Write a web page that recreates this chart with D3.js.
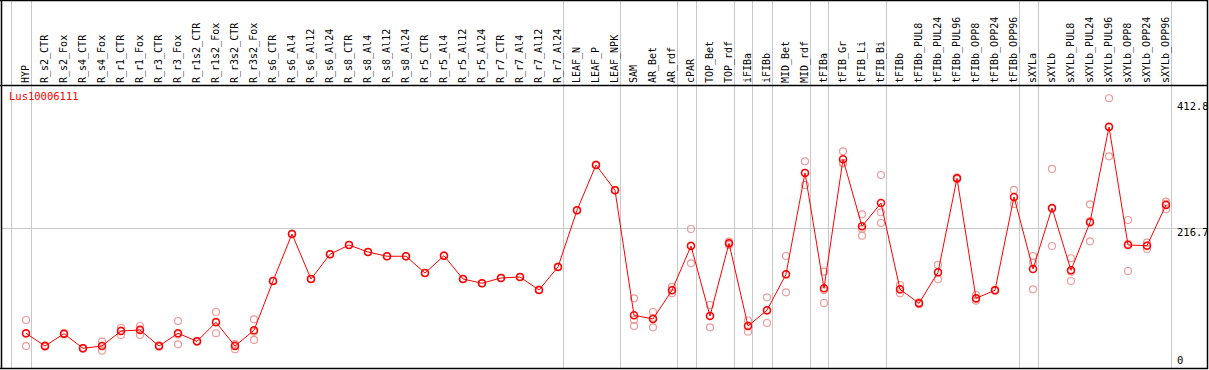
<!DOCTYPE html>
<html>
<head>
<meta charset="utf-8">
<script src="https://cdn.jsdelivr.net/npm/d3@7"></script>
<style>
  body { margin: 0; background: #fff; }
  svg { display: block; }
  text { font-family: "DejaVu Sans Mono", monospace; font-size: 10px; }
</style>
</head>
<body>
<svg id="chart" width="1209" height="370"></svg>
<script>
const width = 1209;
const height = 370;

const geneId = "Lus10006111";

const categories = [
  "HYP", "R_s2_CTR", "R_s2_Fox", "R_s4_CTR", "R_s4_Fox", "R_r1_CTR", "R_r1_Fox",
  "R_r3_CTR", "R_r3_Fox", "R_r1s2_CTR", "R_r1s2_Fox", "R_r3s2_CTR", "R_r3s2_Fox",
  "R_s6_CTR", "R_s6_Al4", "R_s6_Al12", "R_s6_Al24", "R_s8_CTR", "R_s8_Al4",
  "R_s8_Al12", "R_s8_Al24", "R_r5_CTR", "R_r5_Al4", "R_r5_Al12", "R_r5_Al24",
  "R_r7_CTR", "R_r7_Al4", "R_r7_Al12", "R_r7_Al24", "LEAF_N", "LEAF_P", "LEAF_NPK",
  "SAM", "AR_Bet", "AR_rdf", "cPAR", "TOP_Bet", "TOP_rdf", "iFIBa", "iFIBb",
  "MID_Bet", "MID_rdf", "tFIBa", "tFIB_Gr", "tFIB_Li", "tFIB_Bi", "tFIBb",
  "tFIBb_PUL8", "tFIBb_PUL24", "tFIBb_PUL96", "tFIBb_OPP8", "tFIBb_OPP24", "tFIBb_OPP96",
  "sXYLa", "sXYLb", "sXYLb_PUL8", "sXYLb_PUL24", "sXYLb_PUL96", "sXYLb_OPP8",
  "sXYLb_OPP24", "sXYLb_OPP96"
];

// mean expression per sample
const means = [
  53.9, 34.1, 53.2, 30.6, 34.1, 57.4, 59.0, 34.1, 53.9, 41.4, 70.9, 34.1, 58.5,
  135.0, 208.0, 138.1, 176.5, 190.9, 180.0, 173.4, 173.4, 147.4, 174.3, 138.1, 131.5,
  139.7, 141.2, 121.1, 156.8, 244.8, 315.1, 275.8,
  81.8, 76.1, 120.6, 189.4, 80.7, 193.5, 65.2, 89.6, 145.4, 302.7, 123.7, 323.9,
  219.9, 256.1, 122.1, 100.4, 148.5, 294.4, 108.2, 120.6, 265.4,
  153.7, 248.4, 151.6, 226.1, 374.1, 190.9, 189.8, 253.0
];

// replicate values (three per sample)
const rep1 = [
  74.5, 35, 54, 31, 40.8, 62.5, 65.2, 35, 72.9, 42, 86.9, 37.2, 75.6,
  135.0, 208.0, 138.1, 176.5, 190.9, 180.0, 173.4, 173.4, 147.4, 174.3, 138.1, 131.5,
  139.7, 141.2, 121.1, 156.8, 244.8, 315.1, 275.8,
  108.2, 86.9, 126, 215.7, 97.8, 196, 73.7, 109.7, 173.8, 320.8, 149.5, 336.3,
  238.5, 299.5, 128.8, 102, 159.9, 296, 113.3, 121, 276.3,
  173.8, 308.9, 170.3, 254, 418.6, 229.7, 194.5, 258.1
];
const rep2 = [
  53, 34, 53, 30, 34.5, 58, 60, 34, 52, 41, 72, 36, 56.4,
  135.0, 208.0, 138.1, 176.5, 190.9, 180.0, 173.4, 173.4, 147.4, 174.3, 138.1, 131.5,
  139.7, 141.2, 121.1, 156.8, 244.8, 315.1, 275.8,
  74.5, 78, 121, 190, 81, 193, 65.6, 89, 145, 303, 121, 318,
  216, 241.6, 121.6, 100, 148, 294, 107, 120.6, 265,
  163.4, 247, 149.5, 228, 375, 192.5, 190, 254.6
];
const rep3 = [
  34.1, 33, 52, 31, 26.9, 51.2, 51.2, 33, 36.8, 41, 53.9, 29, 43.5,
  135.0, 208.0, 138.1, 176.5, 190.9, 180.0, 173.4, 173.4, 147.4, 174.3, 138.1, 131.5,
  139.7, 141.2, 121.1, 156.8, 244.8, 315.1, 275.8,
  65.2, 63.2, 115.9, 162.5, 63.2, 191, 56.3, 69.8, 117.5, 284, 100.9, 317.7,
  205.3, 225, 115.9, 99, 137.7, 293, 104.5, 120, 254.5,
  122.1, 189.3, 135, 196.6, 328.5, 150.5, 184.7, 246.3
];

// sample index after which a group separator is drawn
const groupEnds = [-1, 0, 28, 31, 34, 35, 37, 38, 39, 41, 42, 45, 52, 53, 60];

const yTicks = [0, 216.7, 412.8];
const yGrid = [216.7];

const svg = d3.select("#chart");

const headerBottom = 85;
const plotBottom = 368;

const x = d3.scaleLinear().domain([0, categories.length - 1]).range([26, 1166]);
const y = d3.scaleLinear().domain([0, 412.8]).range([plotBottom, 102]);

// grid
svg.append("g")
  .selectAll("line")
  .data(yGrid)
  .enter()
  .append("line")
  .attr("x1", 1)
  .attr("x2", 1207)
  .attr("y1", (d) => Math.round(y(d)) + 0.5)
  .attr("y2", (d) => Math.round(y(d)) + 0.5)
  .attr("stroke", "#c8c8c8");

svg.append("g")
  .selectAll("line")
  .data(groupEnds)
  .enter()
  .append("line")
  .attr("x1", (d) => Math.round(x(d) + 4.5) + 0.5)
  .attr("x2", (d) => Math.round(x(d) + 4.5) + 0.5)
  .attr("y1", 0)
  .attr("y2", plotBottom)
  .attr("stroke", "#c8c8c8");

// frame
const frame = svg.append("g").attr("stroke", "#000").attr("stroke-width", 1.5);
frame.append("line").attr("x1", 0).attr("x2", 1208).attr("y1", 0.5).attr("y2", 0.5);
frame.append("line").attr("x1", 0).attr("x2", 1208).attr("y1", headerBottom + 0.5).attr("y2", headerBottom + 0.5);
frame.append("line").attr("x1", 0).attr("x2", 1208).attr("y1", plotBottom + 0.5).attr("y2", plotBottom + 0.5);
frame.append("line").attr("x1", 1.5).attr("x2", 1.5).attr("y1", 0).attr("y2", plotBottom + 1);
frame.append("line").attr("x1", 1207.5).attr("x2", 1207.5).attr("y1", 0).attr("y2", plotBottom + 1);

// sample labels (rotated)
svg.append("g")
  .selectAll("text")
  .data(categories)
  .enter()
  .append("text")
  .attr("transform", (d, i) => `translate(${x(i) + 3},${headerBottom - 2}) rotate(-90)`)
  .attr("fill", "#000")
  .text((d) => d);

// gene id
svg.append("text")
  .attr("x", 9)
  .attr("y", 100)
  .attr("fill", "#ff0000")
  .style("font-size", "10.5px")
  .text(geneId);

// y tick labels on the right
svg.append("g")
  .selectAll("text")
  .data(yTicks)
  .enter()
  .append("text")
  .attr("x", 1177)
  .attr("y", (d) => (d === 0 ? y(d) - 4 : y(d) + 7.5))
  .attr("fill", "#000")
  .style("font-size", "10.5px")
  .text((d) => (d === 0 ? "0" : d.toFixed(1)));

// replicates
const reps = [];
categories.forEach((c, i) => {
  [rep1[i], rep2[i], rep3[i]].forEach((v) => reps.push({ i: i, v: v }));
});

svg.append("g")
  .selectAll("circle")
  .data(reps)
  .enter()
  .append("circle")
  .attr("cx", (d) => x(d.i))
  .attr("cy", (d) => y(d.v))
  .attr("r", 3.5)
  .attr("fill", "none")
  .attr("stroke", "#f09a9a")
  .attr("stroke-width", 1.2);

// mean line
const line = d3.line()
  .x((d, i) => x(i))
  .y((d) => y(d));

svg.append("path")
  .datum(means)
  .attr("d", line)
  .attr("fill", "none")
  .attr("stroke", "#ff0000")
  .attr("stroke-width", 1);

svg.append("g")
  .selectAll("circle")
  .data(means)
  .enter()
  .append("circle")
  .attr("cx", (d, i) => x(i))
  .attr("cy", (d) => y(d))
  .attr("r", 3.5)
  .attr("fill", "none")
  .attr("stroke", "#ff0000")
  .attr("stroke-width", 1.5);
</script>
</body>
</html>
